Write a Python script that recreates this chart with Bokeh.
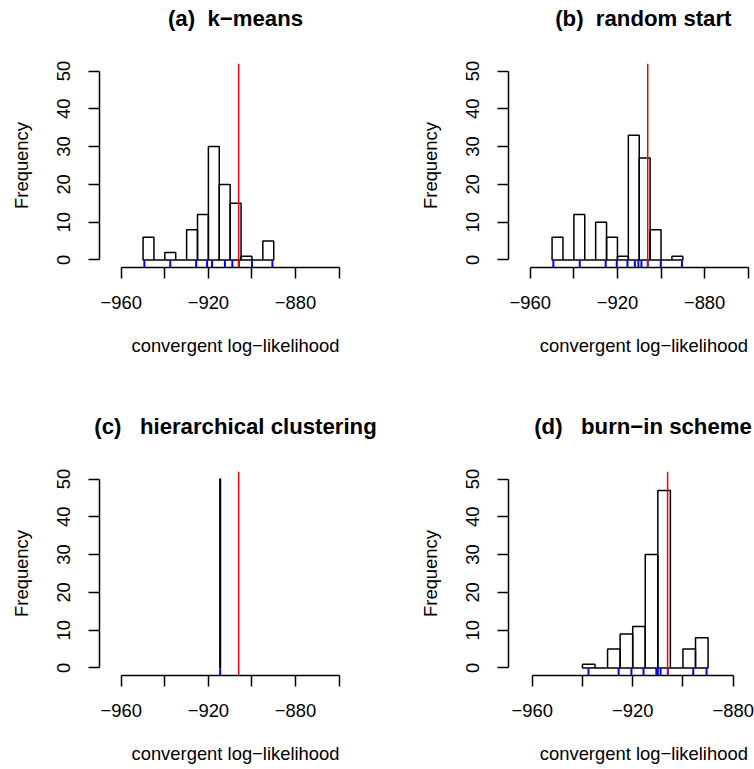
from bokeh.plotting import figure
from bokeh.layouts import column, row
from bokeh.models import FixedTicker, Span, Range1d, Title
from bokeh.embed import file_html
from bokeh.resources import INLINE

# ---------------- data ----------------
NB = "\u00a0"
panel_titles = ["(a)" + NB * 2 + "k\u2212means", "(b)" + NB * 2 + "random start",
                "(c)" + NB * 3 + "hierarchical clustering", "(d)" + NB * 3 + "burn\u2212in scheme"]
x_axis_label = "convergent log\u2212likelihood"
y_axis_label = "Frequency"

a_left = [-950, -945, -940, -935, -930, -925, -920, -915, -910, -905, -900, -895]
a_right = [-945, -940, -935, -930, -925, -920, -915, -910, -905, -900, -895, -890]
a_counts = [6, 0, 2, 0, 8, 12, 30, 20, 15, 1, 0, 5]
a_rug = [-949.4, -937.5, -925.6, -920.6, -918.3, -912.4, -909.0, -906.0, -900.0, -890.6]

b_left = [-950, -945, -940, -935, -930, -925, -920, -915, -910, -905, -900, -895]
b_right = [-945, -940, -935, -930, -925, -920, -915, -910, -905, -900, -895, -890]
b_counts = [6, 0, 12, 0, 10, 6, 1, 33, 27, 8, 0, 1]
b_rug = [-949.4, -937.3, -925.4, -920.3, -915.4, -912.0, -910.4, -909.0, -906.1, -900.1, -890.4]

c_left = [-914.75]
c_right = [-914.45]
c_counts = [50]
c_rug = [-914.6]

d_left = [-940, -935, -930, -925, -920, -915, -910, -905, -900, -895]
d_right = [-935, -930, -925, -920, -915, -910, -905, -900, -895, -890]
d_counts = [1, 0, 5, 9, 11, 30, 47, 0, 5, 8]
d_rug = [-937.6, -925.6, -920.5, -915.7, -910.6, -910.0, -908.9, -906.0, -895.9, -890.6]

reference_loglik = -906.1

x_ticks_abc = [-960, -940, -920, -900, -880, -860]
x_tick_labels_abc = ["\u2212960", "", "\u2212920", "", "\u2212880", ""]
x_ticks_d = [-960, -940, -920, -900, -880]
x_tick_labels_d = ["\u2212960", "", "\u2212920", "", "\u2212880"]
y_ticks = [0, 10, 20, 30, 40, 50]
y_tick_labels = ["0", "10", "20", "30", "40", "50"]

FONT = "Liberation Sans"
LW = 1.5


def spacer(standoff):
    # blank white title used only to reserve space next to the frame
    return Title(text=" ", text_font_size="10px", standoff=standoff,
                 text_color="white", vertical_align="bottom")


def panel(title, left, right, counts, rug, xr, xticks, xlabels,
          height, b_left, b_right, b_top, b_bottom, title_offset, xlab_offset):
    p = figure(width=377, height=height, x_range=Range1d(*xr), y_range=Range1d(-2, 52),
               output_backend="svg", toolbar_location=None, title=None,
               min_border_left=b_left, min_border_right=b_right,
               min_border_top=b_top, min_border_bottom=b_bottom)
    p.outline_line_color = None
    p.xgrid.visible = False
    p.ygrid.visible = False
    p.background_fill_color = "white"
    p.border_fill_color = "white"

    p.quad(left=left, right=right, bottom=0, top=counts,
           fill_color=None, line_color="black", line_width=LW)
    p.segment(x0=rug, x1=rug, y0=[-2] * len(rug), y1=[-0.15] * len(rug),
              line_color="#0000ff", line_width=2)
    p.add_layout(Span(location=reference_loglik, dimension="height",
                      line_color="#ff0000", line_width=LW))

    xa = p.xaxis[0]
    xa.ticker = FixedTicker(ticks=xticks)
    xa.major_label_overrides = {t: l for t, l in zip(xticks, xlabels)}
    xa.bounds = (xticks[0], xticks[-1])
    xa.major_label_standoff = 17
    ya = p.yaxis[0]
    ya.ticker = FixedTicker(ticks=y_ticks)
    ya.major_label_overrides = {t: l for t, l in zip(y_ticks, y_tick_labels)}
    ya.bounds = (y_ticks[0], y_ticks[-1])
    ya.major_label_orientation = "vertical"
    ya.major_label_standoff = 18
    ya.axis_label = y_axis_label
    ya.axis_label_standoff = 23
    ya.axis_label_text_font = FONT
    ya.axis_label_text_font_size = "18.4px"
    ya.axis_label_text_font_style = "normal"
    ya.axis_label_text_color = "black"
    for ax in (xa, ya):
        ax.axis_line_color = "black"
        ax.axis_line_width = LW
        ax.major_tick_line_color = "black"
        ax.major_tick_line_width = LW
        ax.major_tick_in = 0
        ax.major_tick_out = 11
        ax.minor_tick_line_color = None
        ax.major_label_text_font = FONT
        ax.major_label_text_font_size = "18.4px"
        ax.major_label_text_color = "black"

    # title: spacer next to the frame, then the bold title
    p.add_layout(spacer(20), "above")
    p.add_layout(Title(text=title, align="center" if title_offset is None else "left",
                       offset=0 if title_offset is None else title_offset,
                       vertical_align="bottom", standoff=0,
                       text_font=FONT, text_font_size="22.2px", text_font_style="bold",
                       text_color="black"), "above")
    # x label: axis, spacer, label
    p.add_layout(spacer(10), "below")
    p.add_layout(Title(text=x_axis_label, align="center" if xlab_offset is None else "left",
                       offset=0 if xlab_offset is None else xlab_offset,
                       vertical_align="top", standoff=0,
                       text_font=FONT, text_font_size="18.4px", text_font_style="normal",
                       text_color="black"), "below")
    return p


pa = panel(panel_titles[0], a_left, a_right, a_counts, a_rug, (-970.0, -845.1),
           x_ticks_abc, x_tick_labels_abc, 384, 99, 6, 63, 117, None, None)
pb = panel(panel_titles[1], b_left, b_right, b_counts, b_rug, (-970.0, -857.1),
           x_ticks_abc, x_tick_labels_abc, 384, 131, 0, 63, 117, 46.7, 31.3)
pc = panel(panel_titles[2], c_left, c_right, c_counts, c_rug, (-970.0, -845.1),
           x_ticks_abc, x_tick_labels_abc, 385, 99, 6, 87, 94, None, None)
pd_ = panel(panel_titles[3], d_left, d_right, d_counts, d_rug, (-969.43, -871.52),
            x_ticks_d, x_tick_labels_d, 385, 131, 0, 87, 94, 25.7, 31.3)

layout = column(row(pa, pb), row(pc, pd_))
open("out.html", "w").write(file_html(layout, INLINE))
